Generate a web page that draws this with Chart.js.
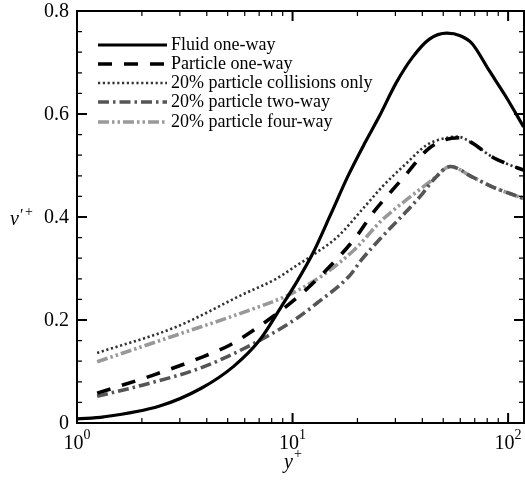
<!DOCTYPE html>
<html>
<head>
<meta charset="utf-8">
<script src="https://cdn.jsdelivr.net/npm/chart.js@4"></script>
<style>
  html, body { margin: 0; padding: 0; background: #fff; }
  #wrap { width: 525px; height: 481px; }
</style>
</head>
<body>
<div id="wrap"><canvas id="chart" width="525" height="481"></canvas></div>
<script>
// Values (y+ positions and v'+ values)
const fluidY = [1, 1.33, 2.42, 3.79, 5.33, 7.04, 8.87, 10.6, 12.4, 15.1, 18, 21.6, 25.3, 30.2, 36, 43, 52, 60, 68, 81.5, 97.6, 118];
const fluidV = [0.008, 0.012, 0.033, 0.068, 0.11, 0.161, 0.226, 0.278, 0.329, 0.407, 0.478, 0.543, 0.596, 0.66, 0.71, 0.745, 0.757, 0.752, 0.737, 0.685, 0.634, 0.575];

const particleY = [1.24, 2.26, 3.86, 5.1, 6.8, 10.6, 16.2, 20, 23.5, 29, 34, 42, 51, 60, 68, 84, 98, 118];
const particleV = [0.058, 0.093, 0.129, 0.151, 0.184, 0.245, 0.32, 0.365, 0.407, 0.452, 0.485, 0.53, 0.55, 0.554, 0.544, 0.517, 0.504, 0.491];

const collisionY = [1.24, 2.9, 5.9, 8.4, 10.2, 12.4, 16.2, 21.6, 26.1, 33.7, 42, 51, 58, 68, 84, 98, 118];
const collisionV = [0.136, 0.187, 0.25, 0.28, 0.303, 0.326, 0.362, 0.42, 0.459, 0.504, 0.54, 0.553, 0.556, 0.544, 0.517, 0.504, 0.491];

const twoWayY = [1.24, 2.03, 3.86, 7.6, 10.6, 13, 18.3, 21, 26.2, 33.6, 40, 45, 54, 68, 84, 98, 118];
const twoWayV = [0.052, 0.074, 0.109, 0.168, 0.205, 0.233, 0.285, 0.318, 0.363, 0.41, 0.445, 0.472, 0.498, 0.478, 0.459, 0.448, 0.436];

const fourWayY = [1.24, 2.9, 6.3, 9.5, 13.5, 19.3, 26, 32.3, 44.5, 54, 68, 84, 98, 118];
const fourWayV = [0.119, 0.171, 0.219, 0.248, 0.284, 0.336, 0.394, 0.427, 0.472, 0.498, 0.478, 0.459, 0.448, 0.436];

const seriesLabels = [
  "Fluid one-way",
  "Particle one-way",
  "20% particle collisions only",
  "20% particle two-way",
  "20% particle four-way"
];

const xMajorTicks = [1, 10, 100];
const xTickExponents = ["0", "1", "2"];
const yMajorTicks = [0, 0.2, 0.4, 0.6, 0.8];
const yTickLabels = ["0", "0.2", "0.4", "0.6", "0.8"];

const SERIF = '"Liberation Serif", "DejaVu Serif", serif';

function pts(xs, vs) {
  return xs.map((x, i) => ({ x: x, y: vs[i] }));
}

function line(label, xs, vs, color, width, dash) {
  return {
    label: label,
    data: pts(xs, vs),
    borderColor: color,
    borderWidth: width,
    borderDash: dash,
    borderCapStyle: "butt",
    pointRadius: 0,
    fill: false,
    tension: 0.4,
    cubicInterpolationMode: "monotone"
  };
}

// Frame, inside ticks, tick labels, axis titles and legend
const framePlugin = {
  id: "frame",
  afterDraw(chart) {
    const ctx = chart.ctx;
    const a = chart.chartArea;
    const xs = chart.scales.x;
    const ys = chart.scales.y;
    ctx.save();
    ctx.strokeStyle = "#000";
    ctx.fillStyle = "#000";

    // y ticks (left and right)
    for (let i = 0; i <= 20; i++) {
      const v = i * 0.04;
      const py = ys.getPixelForValue(v);
      const major = i % 5 === 0;
      const len = major ? 10 : 5;
      ctx.lineWidth = major ? 2 : 1.2;
      ctx.beginPath();
      ctx.moveTo(a.left, py);
      ctx.lineTo(a.left + len, py);
      ctx.moveTo(a.right, py);
      ctx.lineTo(a.right - len, py);
      ctx.stroke();
    }

    // x ticks (bottom and top)
    xMajorTicks.forEach((d) => {
      for (let k = 1; k <= 9; k++) {
        const v = k * d;
        if (v > xs.max) break;
        const px = xs.getPixelForValue(v);
        const len = k === 1 ? 10 : 5;
        ctx.lineWidth = k === 1 ? 2 : 1.2;
        ctx.beginPath();
        ctx.moveTo(px, a.bottom);
        ctx.lineTo(px, a.bottom - len);
        ctx.moveTo(px, a.top);
        ctx.lineTo(px, a.top + len);
        ctx.stroke();
      }
    });

    // frame
    ctx.lineWidth = 2;
    ctx.strokeRect(a.left, a.top, a.right - a.left, a.bottom - a.top);

    // y tick labels
    ctx.font = "20px " + SERIF;
    ctx.textAlign = "right";
    ctx.textBaseline = "middle";
    yMajorTicks.forEach((v, i) => {
      ctx.fillText(yTickLabels[i], a.left - 8, ys.getPixelForValue(v) + 1);
    });

    // x tick labels: 10 with exponent
    ctx.textAlign = "left";
    ctx.textBaseline = "alphabetic";
    xMajorTicks.forEach((v, i) => {
      const px = xs.getPixelForValue(v);
      ctx.font = "20px " + SERIF;
      const wb = ctx.measureText("10").width;
      ctx.font = "14px " + SERIF;
      const we = ctx.measureText(xTickExponents[i]).width;
      const x0 = px - (wb + we) / 2;
      ctx.font = "20px " + SERIF;
      ctx.fillText("10", x0, a.bottom + 26);
      ctx.font = "14px " + SERIF;
      ctx.fillText(xTickExponents[i], x0 + wb, a.bottom + 16);
    });

    // axis titles
    ctx.font = "italic 20px " + SERIF;
    ctx.fillText("y", 284, 468);
    ctx.font = "14px " + SERIF;
    ctx.fillText("+", 294, 458);

    ctx.font = "italic 20px " + SERIF;
    ctx.fillText("v", 10, 225);
    ctx.font = "16px " + SERIF;
    ctx.fillText("\u2032", 20, 220);
    ctx.font = "14px " + SERIF;
    ctx.fillText("+", 25, 216);

    // legend
    const lx0 = 98, lx1 = 167, tx = 171;
    const rowY = [45, 64, 83, 102, 122];
    chart.data.datasets.forEach((ds, i) => {
      const y = rowY[i];
      ctx.save();
      ctx.strokeStyle = ds.borderColor;
      ctx.lineWidth = ds.borderWidth;
      ctx.setLineDash(ds.borderDash || []);
      ctx.lineCap = "butt";
      ctx.beginPath();
      ctx.moveTo(lx0, y);
      ctx.lineTo(lx1, y);
      ctx.stroke();
      ctx.restore();
      ctx.font = "18px " + SERIF;
      ctx.textBaseline = "middle";
      ctx.fillStyle = "#000";
      ctx.fillText(ds.label, tx, y);
    });
    ctx.restore();
  }
};

new Chart(document.getElementById("chart"), {
  type: "line",
  data: {
    datasets: [
      line(seriesLabels[0], fluidY, fluidV, "#000", 3.2, []),
      line(seriesLabels[1], particleY, particleV, "#000", 3.6, [14, 12]),
      line(seriesLabels[2], collisionY, collisionV, "#333", 2.6, [2.2, 2.6]),
      line(seriesLabels[3], twoWayY, twoWayV, "#555", 3.6, [11, 4, 2.5, 4]),
      line(seriesLabels[4], fourWayY, fourWayV, "#999", 3.6, [11, 3, 2.5, 3, 2.5, 3])
    ]
  },
  options: {
    responsive: false,
    animation: false,
    layout: { padding: { left: 77, right: 1, top: 11, bottom: 58 } },
    plugins: { legend: { display: false }, tooltip: { enabled: false } },
    scales: {
      x: { type: "logarithmic", min: 1, max: 118.5, display: false },
      y: { type: "linear", min: 0, max: 0.8, display: false }
    }
  },
  plugins: [framePlugin]
});
</script>
</body>
</html>
